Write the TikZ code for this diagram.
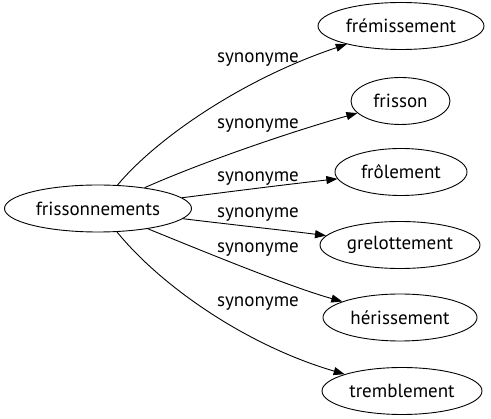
\documentclass[tikz,border=0pt]{standalone}
\usepackage{fontspec}
\setmainfont{PT Sans}
\usetikzlibrary{shapes.geometric,arrows.meta}
\begin{document}
\begin{tikzpicture}[x=1pt,y=-1pt,
  word/.style={ellipse,draw,line width=0.9pt,inner sep=0pt,minimum height=47pt,font=\fontsize{19}{20}\selectfont},
  rel/.style={font=\fontsize{19}{20}\selectfont,inner sep=0pt},
  link/.style={line width=0.9pt,-{Triangle[length=11pt,width=8pt]}}]
\useasboundingbox (0,0) rectangle (491,419);
\node[word,minimum width=187pt] (src) at (98,208.5) {frissonnements};
\node[word,minimum width=166pt] (n1) at (401,26) {frémissement};
\node[word,minimum width=99pt] (n2) at (400.5,101) {frisson};
\node[word,minimum width=132pt] (n3) at (401,172) {frôlement};
\node[word,minimum width=160pt] (n4) at (400,245) {grelottement};
\node[word,minimum width=154pt] (n5) at (400,317.5) {hérissement};
\node[word,minimum width=160pt] (n6) at (402,391) {tremblement};
\node[rel] (l1) at (258,60) {synonyme};
\node[rel] (l2) at (258,126) {synonyme};
\node[rel] (l3) at (258,179) {synonyme};
\node[rel] (l4) at (258,215) {synonyme};
\node[rel] (l5) at (258,250) {synonyme};
\node[rel] (l6) at (258,304) {synonyme};
\draw[link] (src) .. controls (155,140) and (240,80) .. (n1);
\draw[link] (src) .. controls (200,163) and (290,132) .. (n2);
\draw[link] (src) .. controls (235,191) and (290,184) .. (n3);
\draw[link] (src) .. controls (235,225) and (290,231) .. (n4);
\draw[link] (src) .. controls (200,250) and (290,287) .. (n5);
\draw[link] (src) .. controls (160,285) and (245,345) .. (n6);
\end{tikzpicture}
\end{document}
